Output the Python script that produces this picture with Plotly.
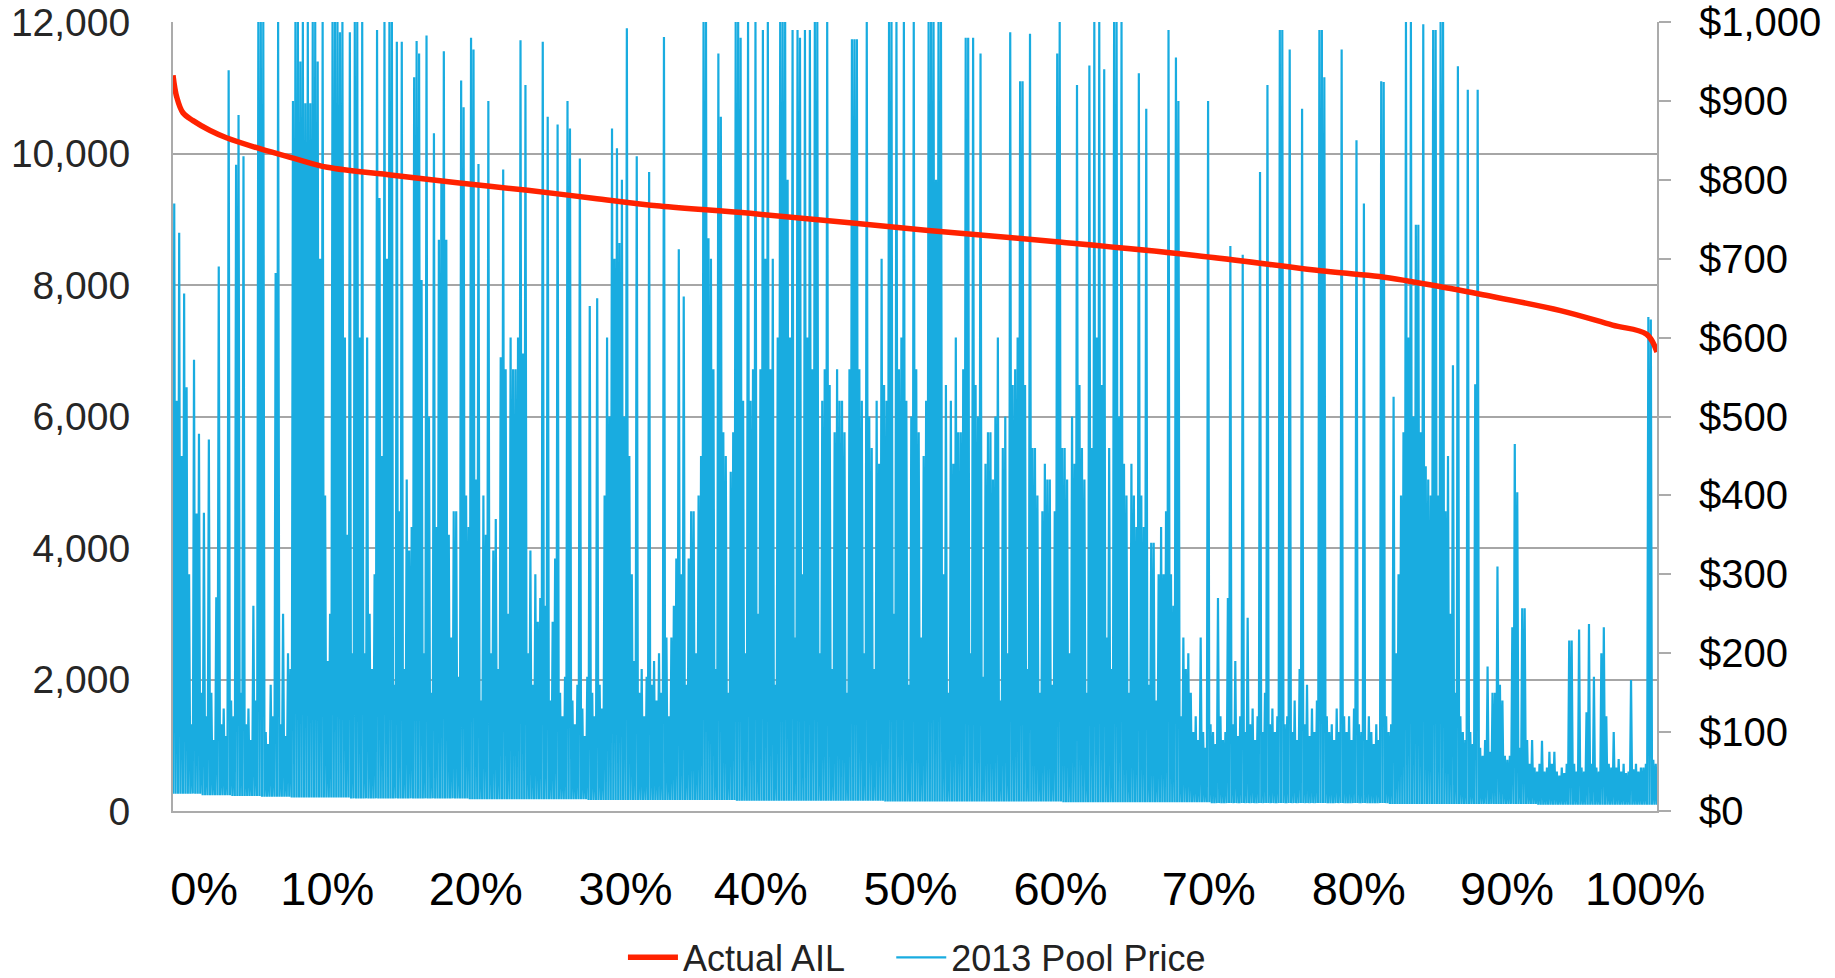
import plotly.graph_objects as go

# Load duration curve (Actual AIL, MW) vs. percent of hours
ail_pct = [0, 0.25, 0.67, 1.35, 2.5, 3.6, 5.9, 8.1, 10.4, 14.8, 19.3, 23.9, 28.3,
           32.8, 38.9, 50.9, 59.9, 68.9, 78.0, 81.3, 86.0, 88.1, 93.5, 97.0, 99.3, 100]
ail_mw = [11190, 10860, 10620, 10500, 10350, 10240, 10070, 9930, 9790, 9670, 9550, 9440, 9320,
          9200, 9090, 8830, 8650, 8450, 8200, 8130, 7950, 7860, 7610, 7390, 7250, 6980]

# 2013 pool price ($/MWh): peak of each 1/6-percent slice (one row per percent)
price_peak = [
    770, 520, 733, 450, 656, 537,
    300, 110, 572, 377, 478, 150,
    378, 120, 471, 150, 90, 271,
    690, 110, 130, 95, 939, 140,
    120, 819, 882, 150, 830, 110,
    130, 90, 260, 140, 1000, 1000,
    1000, 100, 85, 160, 120, 682,
    1000, 110, 250, 95, 200, 180,
    900, 1000, 1000, 950, 1000, 897,
    1000, 897, 1000, 1000, 950, 700,
    1000, 400, 190, 250, 1000, 1000,
    1000, 987, 1000, 600, 350, 987,
    200, 1000, 1000, 600, 1000, 200,
    600, 250, 180, 300, 990, 777,
    450, 1000, 700, 1000, 1000, 160,
    975, 380, 975, 180, 420, 330,
    360, 930, 976, 960, 673, 200,
    983, 500, 150, 859, 360, 724,
    800, 963, 724, 350, 220, 380,
    380, 170, 926, 892, 400, 360,
    980, 965, 420, 820, 140, 400,
    350, 900, 200, 330, 370, 180,
    575, 813, 560, 250, 600, 560,
    560, 600, 977, 580, 920, 200,
    330, 160, 300, 240, 270, 975,
    260, 880, 140, 240, 320, 870,
    150, 120, 170, 900, 865, 140,
    110, 160, 827, 130, 95, 170,
    640, 150, 120, 650, 160, 130,
    400, 600, 500, 865, 700, 840,
    720, 800, 500, 992, 450, 300,
    190, 830, 150, 180, 120, 170,
    810, 160, 190, 140, 200, 150,
    981, 220, 120, 220, 260, 320,
    712, 300, 652, 160, 320, 380,
    380, 200, 400, 450, 1000, 1000,
    726, 700, 560, 180, 960, 880,
    480, 450, 150, 430, 480, 1000,
    1000, 980, 520, 200, 1000, 520,
    560, 1000, 250, 560, 990, 700,
    1000, 560, 700, 160, 600, 1000,
    1000, 1000, 800, 600, 990, 220,
    990, 980, 300, 990, 600, 990,
    560, 1000, 1000, 200, 520, 560,
    1000, 540, 180, 480, 560, 520,
    520, 480, 150, 560, 978, 978,
    978, 560, 520, 200, 1000, 500,
    460, 180, 520, 440, 700, 540,
    520, 1000, 1000, 250, 1000, 560,
    600, 1000, 520, 160, 500, 1000,
    560, 480, 220, 450, 520, 1000,
    1000, 1000, 800, 1000, 1000, 300,
    540, 150, 520, 440, 600, 480,
    480, 560, 980, 980, 200, 980,
    540, 500, 960, 170, 440, 480,
    480, 420, 500, 600, 140, 460,
    500, 200, 987, 540, 560, 600,
    925, 925, 540, 180, 985, 460,
    460, 400, 150, 380, 440, 420,
    420, 160, 380, 960, 1000, 460,
    460, 420, 200, 500, 440, 920,
    540, 460, 420, 150, 945, 460,
    1000, 600, 1000, 540, 940, 220,
    460, 180, 1000, 1000, 500, 1000,
    440, 400, 150, 440, 400, 360,
    935, 400, 360, 890, 160, 340,
    340, 140, 300, 360, 300, 380,
    990, 300, 260, 955, 900, 120,
    220, 180, 200, 150, 100, 120,
    90, 220, 100, 80, 900, 110,
    100, 85, 270, 120, 90, 100,
    270, 716, 110, 190, 95, 120,
    705, 100, 245, 110, 130, 90,
    120, 810, 100, 150, 920, 110,
    130, 100, 120, 990, 990, 110,
    120, 965, 100, 140, 90, 180,
    890, 110, 160, 95, 130, 100,
    140, 990, 990, 930, 120, 100,
    110, 90, 130, 100, 965, 120,
    100, 120, 90, 130, 850, 110,
    100, 770, 90, 120, 100, 85,
    110, 90, 925, 924, 120, 100,
    110, 525, 200, 300, 400, 480,
    1000, 600, 1000, 500, 743, 743,
    480, 997, 437, 420, 400, 990,
    990, 400, 1000, 1000, 380, 450,
    250, 565, 150, 944, 120, 100,
    90, 914, 100, 85, 541, 914,
    80, 70, 90, 183, 75, 150,
    150, 310, 160, 140, 70, 65,
    70, 233, 465, 404, 80, 257,
    257, 90, 60, 90, 55, 50,
    60, 89, 50, 55, 75, 60,
    75, 50, 45, 55, 48, 60,
    216, 216, 60, 50, 230, 55,
    50, 125, 237, 60, 170, 55,
    50, 200, 233, 120, 60, 55,
    100, 55, 66, 50, 60, 48,
    50, 166, 53, 60, 50, 55,
    55, 60, 626, 623, 65, 60,
]

# price floor ($/MWh) in each 2% band
price_floor = [22, 20, 19, 18, 17, 17, 16, 16, 16, 16, 15, 15, 15, 15, 14, 14, 14, 14, 14, 13,
               13, 13, 13, 13, 12, 12, 12, 12, 12, 12, 11, 11, 11, 11, 11, 10, 10, 10, 10, 10,
               10, 9, 9, 9, 9, 9, 8, 8, 8, 8]

x_labels = ["0%", "10%", "20%", "30%", "40%", "50%", "60%", "70%", "80%", "90%", "100%"]
x_label_pos = [2.1, 10.4, 20.4, 30.5, 39.6, 49.7, 59.8, 69.8, 79.9, 89.9, 99.2]

bins_per_pct = 6
slices_per_floor = 12
px, py = [], []
for i, peak in enumerate(price_peak):
    px.append(i / bins_per_pct)
    py.append(price_floor[i // slices_per_floor])
    px.append((i + 0.5) / bins_per_pct)
    py.append(peak)
px.append(len(price_peak) / bins_per_pct)
py.append(price_floor[-1])

fig = go.Figure()
fig.add_trace(go.Scatter(
    x=px, y=py, mode="lines", name="2013 Pool Price", yaxis="y", legend="legend2",
    line=dict(color="#19ACE0", width=2.2), hoverinfo="skip"))
fig.add_trace(go.Scatter(
    x=ail_pct, y=ail_mw, mode="lines", name="Actual AIL", yaxis="y2", legend="legend",
    line=dict(color="#FF2200", width=5.5, shape="spline", smoothing=1.0)))

axis_gray = "#ababab"
legend_common = dict(orientation="h", xanchor="left", yref="container", y=0.021,
                     yanchor="middle", itemwidth=50,
                     font=dict(size=36, color="#222"), bgcolor="rgba(0,0,0,0)")
fig.update_layout(
    width=1835, height=978,
    margin=dict(l=173, r=178, t=22, b=167, autoexpand=False),
    paper_bgcolor="white", plot_bgcolor="white",
    font=dict(family="Liberation Sans, Arial, sans-serif", color="#222"),
    showlegend=True,
    legend=dict(x=0.3032, **legend_common),
    legend2=dict(x=0.484, **legend_common),
    xaxis=dict(range=[0, 100], showgrid=False, zeroline=False, showline=True,
               linecolor=axis_gray, linewidth=2, ticks="",
               tickmode="array", tickvals=x_label_pos, ticktext=x_labels,
               tickfont=dict(family="Liberation Sans, Arial", size=47, color="black"),
               ticklabelstandoff=36),
    yaxis=dict(range=[0, 1000], side="right", showgrid=False, zeroline=False,
               showline=True, linecolor=axis_gray, linewidth=2,
               ticks="outside", ticklen=12, tickwidth=2, tickcolor=axis_gray,
               dtick=100, tickprefix="$", tickformat=",",
               tickfont=dict(size=40, color="black"), ticklabelstandoff=20),
    yaxis2=dict(range=[0, 12000], overlaying="y", side="left", showgrid=True,
                gridcolor="#a6a6a6", gridwidth=2, zeroline=False,
                showline=True, linecolor=axis_gray, linewidth=2, ticks="",
                dtick=2000, tickformat=",",
                tickfont=dict(size=39, color="#262626"), ticklabelstandoff=33),
)

fig.write_html("out.html", config={"displayModeBar": False},
               post_script="document.body.style.margin='0';document.body.style.overflow='hidden';")
